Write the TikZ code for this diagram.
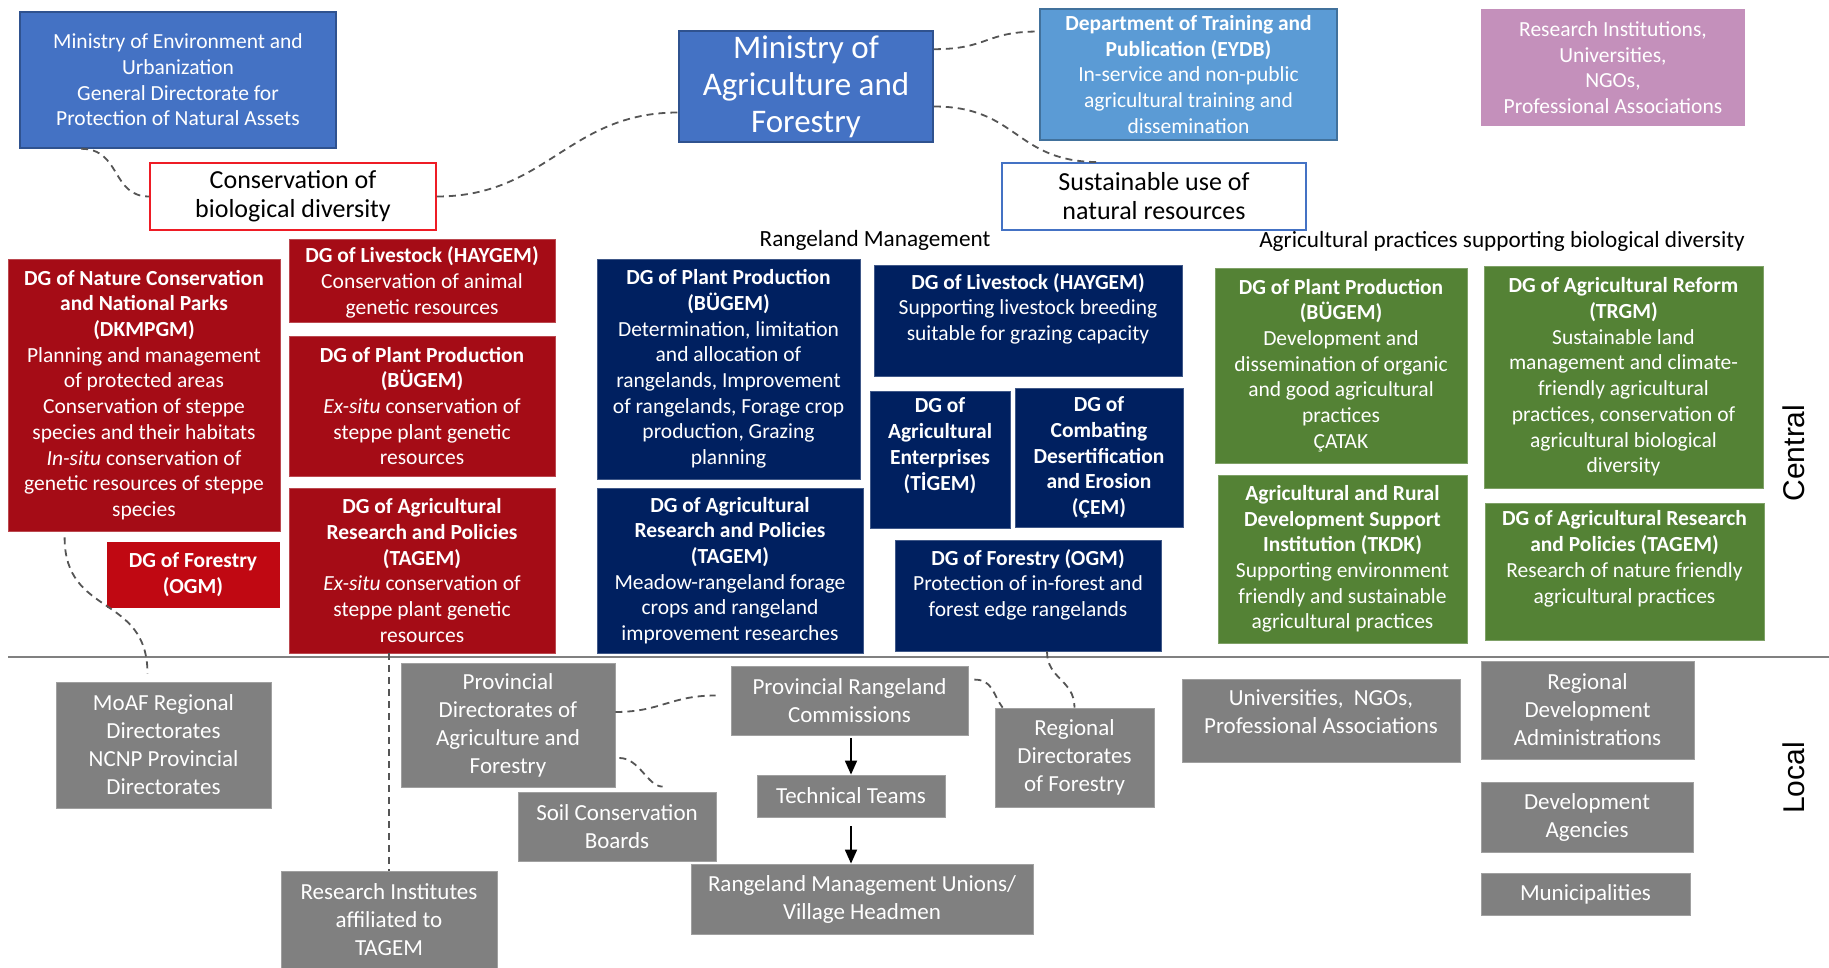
\documentclass[tikz,border=0pt]{standalone}
\usepackage{fontspec}
\setmainfont{Carlito}
\newfontfamily\arialfont{Liberation Sans}
\usetikzlibrary{arrows.meta}

\definecolor{minblue}{HTML}{4472C4}
\definecolor{minedge}{HTML}{2F528F}
\definecolor{eydbblue}{HTML}{5B9BD5}
\definecolor{eydbedge}{HTML}{41719C}
\definecolor{pinkfill}{HTML}{C490BB}
\definecolor{dgred}{HTML}{A50C16}
\definecolor{ogmred}{HTML}{C00812}
\definecolor{themered}{HTML}{EE1C25}
\definecolor{navy}{HTML}{002060}
\definecolor{agrgreen}{HTML}{548235}
\definecolor{localgray}{HTML}{808080}
\definecolor{dashgray}{HTML}{555555}

\tikzset{
  box/.style={rectangle, align=center, inner sep=2pt, text=white, line width=0.8pt,
    font=\fontsize{21.5}{25.7}\selectfont},
  boxsize/.style 2 args={minimum width=#1pt, minimum height=#2pt},
  ministry/.style={box, fill=minblue, draw=minedge, line width=1.6pt},
  eydbbox/.style={box, fill=eydbblue, draw=eydbedge, line width=1.6pt},
  pinkbox/.style={box, fill=pinkfill},
  redbox/.style={box, fill=dgred, draw=dgred!75!white},
  navybox/.style={box, fill=navy, draw=navy!75!white},
  greenbox/.style={box, fill=agrgreen, draw=agrgreen!75!white},
  localbox/.style={box, fill=localgray, draw=localgray!75!white, font=\fontsize{23}{28}\selectfont},
  themebox/.style={box, fill=white, text=black, line width=1.8pt, font=\fontsize{26}{29}\selectfont},
  sectlabel/.style={inner sep=0pt, font=\fontsize{23.2}{27}\selectfont},
  tierlabel/.style={inner sep=0pt, rotate=90, font=\arialfont\fontsize{30}{34}\selectfont},
  link/.style={draw=dashgray, line width=1.8pt, dash pattern=on 7pt off 5pt},
  arr/.style={draw=black, line width=1.8pt, -{Triangle[length=14pt,width=12pt]}}
}

\begin{document}
\begin{tikzpicture}[x=1pt, y=-1pt]
  \useasboundingbox (0,0) rectangle (1829,968);

  % ministries and partners
  \node[ministry, boxsize={316}{136}] (moeu) at (178,80)
    {Ministry of Environment and\\Urbanization\\General Directorate for\\Protection of Natural Assets};
  \node[ministry, boxsize={254}{111}, font=\fontsize{33}{37}\selectfont] (moaf) at (806,86.5)
    {Ministry of\\Agriculture and\\Forestry};
  \node[eydbbox, boxsize={297}{131}] (eydb) at (1188.5,74.5)
    {\textbf{Department of Training and}\\\textbf{Publication (EYDB)}\\In-service and non-public\\agricultural training and\\dissemination};
  \node[pinkbox, boxsize={264}{117}] (others) at (1613,67.5)
    {Research Institutions,\\Universities,\\NGOs,\\Professional Associations};

  % themes
  \node[themebox, draw=themered, boxsize={286}{67}] (conserv) at (293,196.5)
    {Conservation of\\biological diversity};
  \node[themebox, draw=minblue, boxsize={304}{67}] (sustuse) at (1154,196.5)
    {Sustainable use of\\natural resources};
  \node[sectlabel] (rangelbl) at (875,240) {Rangeland Management};
  \node[sectlabel] (agrilbl) at (1502,241) {Agricultural practices supporting biological diversity};

  % central level: conservation
  \node[redbox, boxsize={272}{272}] (dkmpgm) at (144,395)
    {\textbf{DG of Nature Conservation}\\\textbf{and National Parks}\\\textbf{(DKMPGM)}\\Planning and management\\of protected areas\\Conservation of steppe\\species and their habitats\\\textit{In-situ} conservation of\\genetic resources of steppe\\species};
  \node[redbox, boxsize={266}{83}, text depth=0pt] (haygemr) at (422,280.5)
    {\textbf{DG of Livestock (HAYGEM)}\\Conservation of animal\\genetic resources};
  \node[redbox, boxsize={266}{140}] (bugemr) at (422,406)
    {\textbf{DG of Plant Production}\\\textbf{(BÜGEM)}\\\textit{Ex-situ} conservation of\\steppe plant genetic\\resources};
  \node[redbox, boxsize={266}{165}] (tagemr) at (422,570.5)
    {\textbf{DG of Agricultural}\\\textbf{Research and Policies}\\\textbf{(TAGEM)}\\\textit{Ex-situ} conservation of\\steppe plant genetic\\resources};
  \node[redbox, fill=ogmred, draw=ogmred, boxsize={172}{65}] (ogmr) at (193,574.5)
    {\textbf{DG of Forestry}\\\textbf{(OGM)}};

  % central level: rangelands
  \node[navybox, boxsize={263}{220}] (bugemn) at (728.5,369)
    {\textbf{DG of Plant Production}\\\textbf{(BÜGEM)}\\Determination, limitation\\and allocation of\\rangelands, Improvement\\of rangelands, Forage crop\\production, Grazing\\planning};
  \node[navybox, boxsize={266}{165}] (tagemn) at (730,570.5)
    {\textbf{DG of Agricultural}\\\textbf{Research and Policies}\\\textbf{(TAGEM)}\\Meadow-rangeland forage\\crops and rangeland\\improvement researches};
  \node[navybox, boxsize={308}{111}, text depth=27pt] (haygemn) at (1028,320.5)
    {\textbf{DG of Livestock (HAYGEM)}\\Supporting livestock breeding\\suitable for grazing capacity};
  \node[navybox, boxsize={140}{137}, text depth=31pt] (tigem) at (940,459.5)
    {\textbf{DG of}\\\textbf{Agricultural}\\\textbf{Enterprises}\\\textbf{(TİGEM)}};
  \node[navybox, boxsize={168}{139}] (cem) at (1099,457.5)
    {\textbf{DG of}\\\textbf{Combating}\\\textbf{Desertification}\\\textbf{and Erosion}\\\textbf{(ÇEM)}};
  \node[navybox, boxsize={266}{111}, text depth=25pt] (ogmn) at (1028,595.5)
    {\textbf{DG of Forestry (OGM)}\\Protection of in-forest and\\forest edge rangelands};

  % central level: agriculture
  \node[greenbox, boxsize={252}{195}] (bugemg) at (1341,365.5)
    {\textbf{DG of Plant Production}\\\textbf{(BÜGEM)}\\Development and\\dissemination of organic\\and good agricultural\\practices\\ÇATAK};
  \node[greenbox, boxsize={279}{222}] (trgm) at (1623.5,377)
    {\textbf{DG of Agricultural Reform}\\\textbf{(TRGM)}\\Sustainable land\\management and climate-\\friendly agricultural\\practices, conservation of\\agricultural biological\\diversity};
  \node[greenbox, boxsize={249}{168}] (tkdk) at (1342.5,559)
    {\textbf{Agricultural and Rural}\\\textbf{Development Support}\\\textbf{Institution (TKDK)}\\Supporting environment\\friendly and sustainable\\agricultural practices};
  \node[greenbox, boxsize={279}{137}, text depth=29pt] (tagemg) at (1624.5,571.5)
    {\textbf{DG of Agricultural Research}\\\textbf{and Policies (TAGEM)}\\Research of nature friendly\\agricultural practices};

  % central / local divide
  \coordinate (divl) at (8,657);
  \coordinate (divr) at (1829,657);
  \draw[localgray, line width=1.8pt] (divl) -- (divr);
  \node[tierlabel] (central) at (1794,453) {Central};
  \node[tierlabel] (local) at (1794,778) {Local};

  % local level
  \node[localbox, boxsize={215}{126}] (moafreg) at (163.5,745)
    {MoAF Regional\\Directorates\\NCNP Provincial\\Directorates};
  \node[localbox, boxsize={214}{124}] (provdir) at (508,725)
    {Provincial\\Directorates of\\Agriculture and\\Forestry};
  \node[localbox, boxsize={198}{69}] (soil) at (617,826.5)
    {Soil Conservation\\Boards};
  \node[localbox, boxsize={216}{97}] (resinst) at (389,919.5)
    {Research Institutes\\affiliated to\\TAGEM};
  \node[localbox, boxsize={237}{69}] (prc) at (849.5,700.5)
    {Provincial Rangeland\\Commissions};
  \node[localbox, boxsize={188}{42}] (tech) at (851,796) {Technical Teams};
  \node[localbox, boxsize={342}{70}] (rmu) at (862,899)
    {Rangeland Management Unions/\\Village Headmen};
  \node[localbox, boxsize={159}{99}] (regfor) at (1074.5,757.5)
    {Regional\\Directorates\\of Forestry};
  \node[localbox, boxsize={278}{83}, text depth=17pt] (univ) at (1321,720.5)
    {Universities,\ \ NGOs,\\Professional Associations};
  \node[localbox, boxsize={213}{98}] (rda) at (1587.5,710)
    {Regional\\Development\\Administrations};
  \node[localbox, boxsize={212}{70}] (devag) at (1587,817)
    {Development\\Agencies};
  \node[localbox, boxsize={209}{42}] (muni) at (1585.5,894) {Municipalities};

  % dashed links
  \draw[link] ([xshift=62pt]moeu.south west) .. controls +(40,0) and +(-38,0) .. (conserv.west);
  \draw[link] (conserv.east) .. controls +(110,0) and +(-110,0) .. ([yshift=-26pt]moaf.west);
  \draw[link] ([yshift=-19pt]moaf.north east) .. controls +(55,0) and +(-55,0) .. ([yshift=43pt]eydb.west);
  \draw[link] ([yshift=-20pt]moaf.east) .. controls +(85,0) and +(-85,0) .. ([xshift=98pt]sustuse.north west);
  \draw[link] ([xshift=57pt,yshift=-6pt]dkmpgm.south west) .. controls +(0,80) and +(0,-80) .. ([xshift=-16pt,yshift=8pt]moafreg.north);
  \draw[link] (resinst.north |- tagemr.south) -- (resinst.north);
  \draw[link] ([yshift=13pt]provdir.east) .. controls +(45,0) and +(-45,0) .. ([xshift=-15pt,yshift=5pt]prc.west);
  \draw[link] ([xshift=4pt,yshift=-33pt]provdir.east) .. controls +(20,0) and +(-15,0) .. ([xshift=145pt,yshift=5pt]soil.north west);
  \draw[link] ([xshift=6pt,yshift=-14pt]prc.north east) .. controls +(18,0) and +(-10,-14) .. ([xshift=8pt]regfor.north west);
  \draw[link] ([xshift=19pt]ogmn.south) .. controls +(0,28) and +(0,-28) .. (regfor.north);

  % rangeland chain
  \draw[arr] ([yshift=-3pt]tech.north |- prc.south) -- (tech.north);
  \draw[arr] ([yshift=-9pt]tech.south) -- (tech.south |- rmu.north);
\end{tikzpicture}
\end{document}
